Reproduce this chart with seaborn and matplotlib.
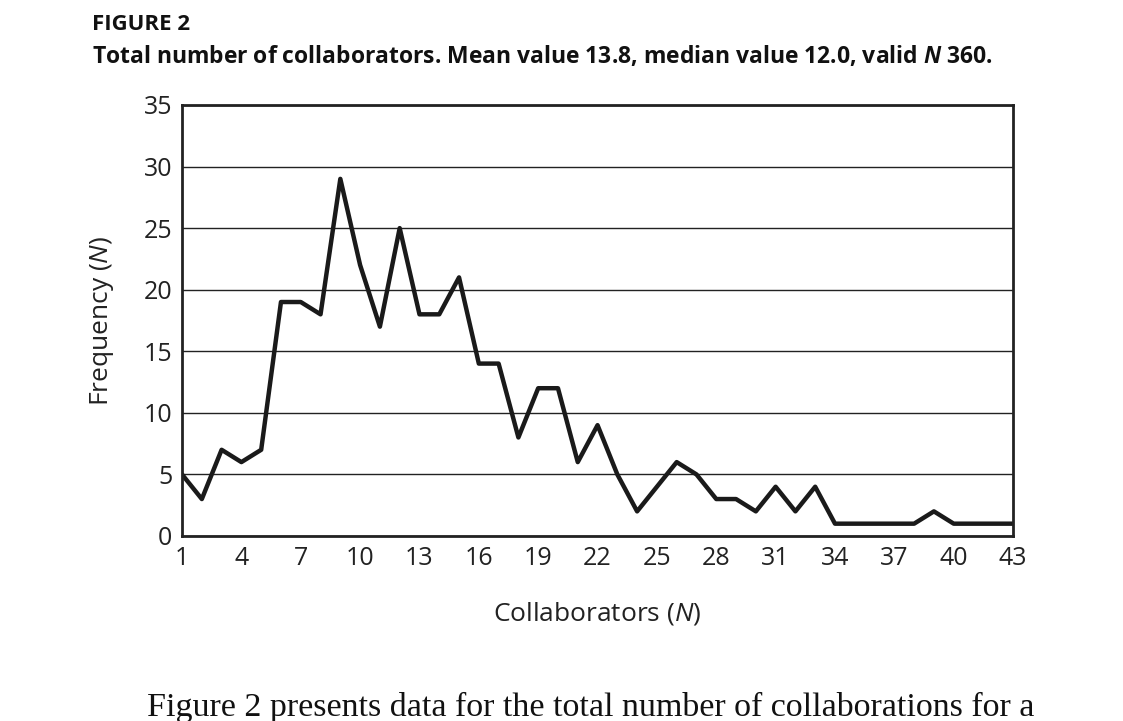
import matplotlib
matplotlib.use("Agg")
import matplotlib.pyplot as plt
import seaborn as sns
import pandas as pd

# Data
collaborators = list(range(1, 44))
frequency = [5, 3, 7, 6, 7, 19, 19, 18, 29, 22,
             17, 25, 18, 18, 21, 14, 14, 8, 12, 12,
             6, 9, 5, 2, 4, 6, 5, 3, 3, 2,
             4, 2, 4, 1, 1, 1, 1, 1, 2, 1,
             1, 1, 1]
x_ticks = list(range(1, 44, 3))
y_ticks = list(range(0, 36, 5))

df = pd.DataFrame({"Collaborators": collaborators, "Frequency": frequency})

sns.set_style("white")
plt.rcParams["font.family"] = ["Open Sans", "DejaVu Sans"]
plt.rcParams["mathtext.fontset"] = "custom"
plt.rcParams["mathtext.rm"] = "Open Sans"
plt.rcParams["mathtext.it"] = "Open Sans:italic"
plt.rcParams["mathtext.bf"] = "Open Sans:bold"
plt.rcParams["mathtext.bfit"] = "Open Sans:bold:italic"

fig = plt.figure(figsize=(11.23, 7.21), dpi=100)
ax = fig.add_axes([0.1621, 0.2566, 0.7400, 0.5978])

sns.lineplot(data=df, x="Collaborators", y="Frequency", ax=ax,
             color="#1a1a1a", linewidth=3.2)

ax.set_xlim(1, 43)
ax.set_ylim(0, 35)
ax.set_xticks(x_ticks)
ax.set_yticks(y_ticks)
ax.yaxis.grid(True, color="#222222", linewidth=1.0)
ax.set_axisbelow(True)
for s in ax.spines.values():
    s.set_color("#222222")
    s.set_linewidth(2.0)
ax.tick_params(axis="both", direction="out", length=5, width=1.5,
               color="#222222", labelsize=18, labelcolor="#222222", pad=2)

ax.set_xlabel(r"Collaborators ($\mathit{N}$)", fontsize=19, color="#222222", labelpad=21)
ax.set_ylabel(r"Frequency ($\mathit{N}$)", fontsize=19, color="#222222", labelpad=20)

fig.text(92 / 1123, 1 - 25 / 721, "FIGURE 2", fontsize=16, fontweight="bold",
         color="#111111", va="center", ha="left")
fig.text(92 / 1123, 1 - 56 / 721,
         r"Total number of collaborators. Mean value 13.8, median value 12.0, valid $\mathbfit{N}$ 360.",
         fontsize=16.5, fontweight="bold", color="#111111", va="center", ha="left")

# body text below the figure (cut by the page edge in the original scan)
fig.text(147 / 1123, 1 - 692 / 721,
         "Figure 2 presents data for the total number of collaborations for a",
         fontsize=24.5, family="Liberation Serif", color="#111111", va="top", ha="left")

fig.savefig("out.png", dpi=100)
